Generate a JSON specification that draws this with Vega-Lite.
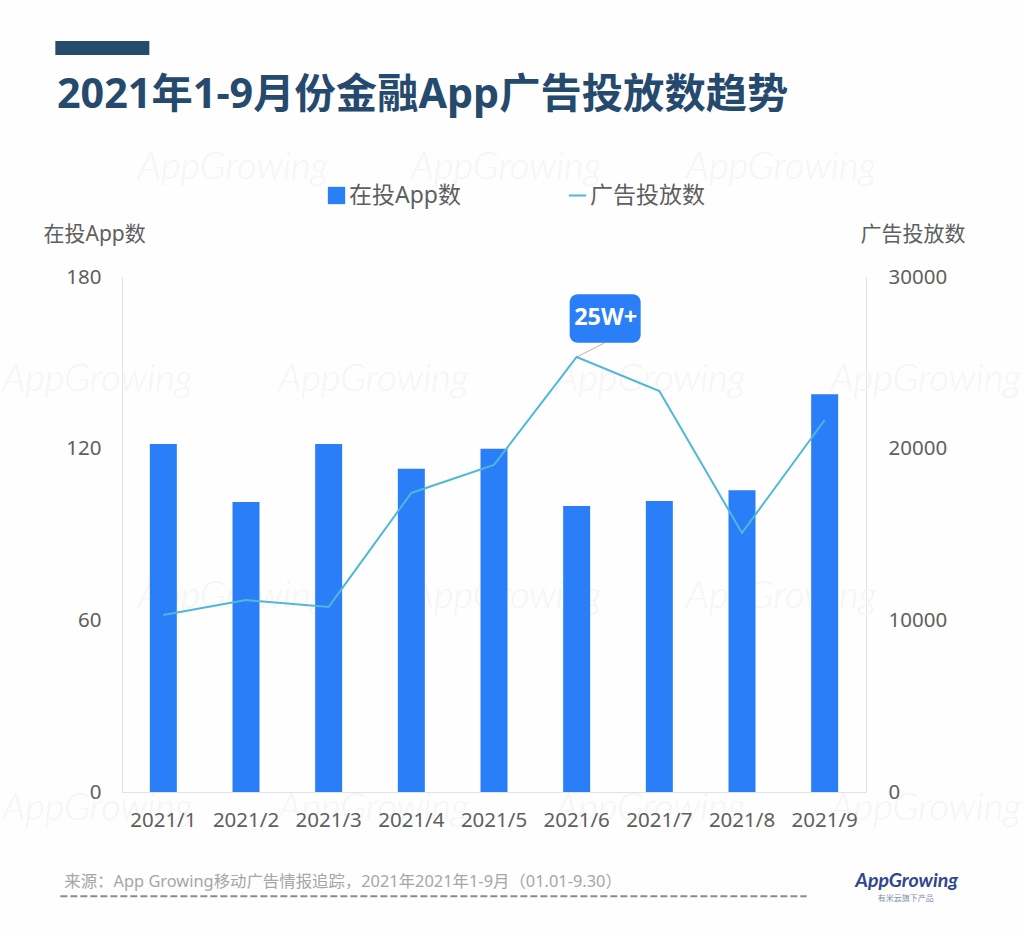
{
"$schema":"https://vega.github.io/schema/vega-lite/v6.json",
"autosize":"none",
"padding":{"left":122,"top":277,"right":158,"bottom":144},
"width":744,"height":515,
"background":"#fefefe",
"config":{"font":"Noto Sans, Noto Sans CJK SC","view":{"stroke":null},
"axisX":{"labelAngle":0,"labelAlign":"center","labelBaseline":"top","ticks":false,"domainColor":"#e3e3e3","labelFontSize":20.5,"labelColor":"#5f5f5f","labelPadding":18,"grid":false,"title":null}},
"title":{"text":"2021年1-9月份金融App广告投放数趋势","anchor":"start","frame":"group","dx":-65,"offset":0,"dy":108,"fontSize":41.3,"fontWeight":"bold","color":"#264a6e","baseline":"alphabetic"},
"data":{"values":[
{"month":"2021/1","apps":121.6,"ads":10310},
{"month":"2021/2","apps":101.4,"ads":11180},
{"month":"2021/3","apps":121.6,"ads":10780},
{"month":"2021/4","apps":113,"ads":17420},
{"month":"2021/5","apps":120,"ads":19050},
{"month":"2021/6","apps":100,"ads":25340},
{"month":"2021/7","apps":101.7,"ads":23360},
{"month":"2021/8","apps":105.5,"ads":15090},
{"month":"2021/9","apps":139,"ads":21670}
]},
"resolve":{"scale":{"y":"independent"}},
"layer":[
{"layer":[
{"data":{"values":[{"label":"AppGrowing"}]},"mark":{"type":"text","font":"Lato","fontStyle":"italic","fontWeight":300,"color":"#f5f5f5","fontSize":38,"xOffset":-13},
"encoding":{"x":{"datum":"2021/2","axis":{"zindex":1}},"y":{"datum":218},"text":{"field":"label"}}},
{"data":{"values":[{"label":"AppGrowing"}]},"mark":{"type":"text","font":"Lato","fontStyle":"italic","fontWeight":300,"color":"#f5f5f5","fontSize":38,"xOffset":12},
"encoding":{"x":{"datum":"2021/5"},"y":{"datum":218},"text":{"field":"label"}}},
{"data":{"values":[{"label":"AppGrowing"}]},"mark":{"type":"text","font":"Lato","fontStyle":"italic","fontWeight":300,"color":"#f5f5f5","fontSize":38,"xOffset":39},
"encoding":{"x":{"datum":"2021/8"},"y":{"datum":218},"text":{"field":"label"}}},
{"data":{"values":[{"label":"AppGrowing"}]},"mark":{"type":"text","font":"Lato","fontStyle":"italic","fontWeight":300,"color":"#f5f5f5","fontSize":38,"xOffset":-13},
"encoding":{"x":{"datum":"2021/2"},"y":{"datum":68},"text":{"field":"label"}}},
{"data":{"values":[{"label":"AppGrowing"}]},"mark":{"type":"text","font":"Lato","fontStyle":"italic","fontWeight":300,"color":"#f5f5f5","fontSize":38,"xOffset":12},
"encoding":{"x":{"datum":"2021/5"},"y":{"datum":68},"text":{"field":"label"}}},
{"data":{"values":[{"label":"AppGrowing"}]},"mark":{"type":"text","font":"Lato","fontStyle":"italic","fontWeight":300,"color":"#f5f5f5","fontSize":38,"xOffset":39},
"encoding":{"x":{"datum":"2021/8"},"y":{"datum":68},"text":{"field":"label"}}},
{"data":{"values":[{"label":"AppGrowing"}]},"mark":{"type":"text","font":"Lato","fontStyle":"italic","fontWeight":300,"color":"#f5f5f5","fontSize":38,"xOffset":-66},
"encoding":{"x":{"datum":"2021/1"},"y":{"datum":144},"text":{"field":"label"}}},
{"data":{"values":[{"label":"AppGrowing"}]},"mark":{"type":"text","font":"Lato","fontStyle":"italic","fontWeight":300,"color":"#f5f5f5","fontSize":38,"xOffset":-38},
"encoding":{"x":{"datum":"2021/4"},"y":{"datum":144},"text":{"field":"label"}}},
{"data":{"values":[{"label":"AppGrowing"}]},"mark":{"type":"text","font":"Lato","fontStyle":"italic","fontWeight":300,"color":"#f5f5f5","fontSize":38,"xOffset":-9},
"encoding":{"x":{"datum":"2021/7"},"y":{"datum":144},"text":{"field":"label"}}},
{"data":{"values":[{"label":"AppGrowing"}]},"mark":{"type":"text","font":"Lato","fontStyle":"italic","fontWeight":300,"color":"#f5f5f5","fontSize":38,"xOffset":101},
"encoding":{"x":{"datum":"2021/9"},"y":{"datum":144},"text":{"field":"label"}}},
{"data":{"values":[{"label":"AppGrowing"}]},"mark":{"type":"text","font":"Lato","fontStyle":"italic","fontWeight":300,"color":"#f5f5f5","fontSize":38,"xOffset":-66},
"encoding":{"x":{"datum":"2021/1"},"y":{"datum":-6},"text":{"field":"label"}}},
{"data":{"values":[{"label":"AppGrowing"}]},"mark":{"type":"text","font":"Lato","fontStyle":"italic","fontWeight":300,"color":"#f5f5f5","fontSize":38,"xOffset":-38},
"encoding":{"x":{"datum":"2021/4"},"y":{"datum":-6},"text":{"field":"label"}}},
{"data":{"values":[{"label":"AppGrowing"}]},"mark":{"type":"text","font":"Lato","fontStyle":"italic","fontWeight":300,"color":"#f5f5f5","fontSize":38,"xOffset":-9},
"encoding":{"x":{"datum":"2021/7"},"y":{"datum":-6},"text":{"field":"label"}}},
{"data":{"values":[{"label":"AppGrowing"}]},"mark":{"type":"text","font":"Lato","fontStyle":"italic","fontWeight":300,"color":"#f5f5f5","fontSize":38,"xOffset":101},
"encoding":{"x":{"datum":"2021/9"},"y":{"datum":-6},"text":{"field":"label"}}},
{"mark":{"type":"bar","size":27},
"encoding":{
"x":{"field":"month","type":"nominal","sort":null,"title":null,"scale":{"type":"band","padding":0,"domain":["2021/1","2021/2","2021/3","2021/4","2021/5","2021/6","2021/7","2021/8","2021/9"]},
"axis":{"zindex":1,"labelAngle":0,"labelAlign":"center","labelBaseline":"top","labelPadding":18}},
"y":{"field":"apps","type":"quantitative","scale":{"domain":[0,180],"nice":false},
"axis":{"values":[0,60,120,180],"grid":false,"ticks":false,"domainColor":"#e3e3e3","labelFontSize":20.5,"labelColor":"#5f5f5f","labelPadding":21,
"title":"在投App数","titleAngle":0,"titleX":-79,"titleY":-43,"titleAlign":"left","titleBaseline":"middle","titleFontSize":21,"titleFontWeight":"normal","titleColor":"#5f5f5f"}},
"fill":{"datum":"在投App数","scale":{"range":["#2a7ef7"]},
"legend":{"orient":"none","legendX":203,"legendY":-93,"title":null,"symbolType":"square","symbolSize":300,"symbolStrokeWidth":0,"labelFontSize":23,"labelColor":"#5f5f5f","labelOffset":1}}
}},
{"data":{"values":[{}]},"mark":{"type":"rule","size":14,"color":"#264a6e","xOffset":-108,"x2Offset":-14},
"encoding":{"x":{"datum":"2021/1"},"x2":{"datum":"2021/1"},"y":{"datum":260}}},
{"data":{"values":[{}]},"mark":{"type":"rule","size":2,"color":"#8c8c8c","strokeDash":[7,3],"xOffset":-103,"x2Offset":-18},
"encoding":{"x":{"datum":"2021/1"},"x2":{"datum":"2021/9"},"y":{"datum":-36.4}}},
{"data":{"values":[{}]},"mark":{"type":"rule","size":1,"color":"#d8a99a","x2Offset":28},
"encoding":{"x":{"datum":"2021/6"},"x2":{"datum":"2021/6"},"y":{"datum":152},"y2":{"datum":157}}},
{"data":{"values":[{}]},"mark":{"type":"rect","color":"#2a7ef7","cornerRadius":8,"xOffset":-7,"x2Offset":64},
"encoding":{"x":{"datum":"2021/6"},"x2":{"datum":"2021/6"},"y":{"datum":157},"y2":{"datum":174}}},
{"data":{"values":[{"label":"25W+"}]},"mark":{"type":"text","color":"#ffffff","fontSize":23.5,"fontWeight":"bold","xOffset":29},
"encoding":{"x":{"datum":"2021/6"},"y":{"datum":165.5},"text":{"field":"label"}}},
{"data":{"values":[{"label":"来源：App Growing移动广告情报追踪，2021年2021年1-9月（01.01-9.30）"}]},"mark":{"type":"text","color":"#a6a6a6","fontSize":16.4,"align":"left","xOffset":-99},
"encoding":{"x":{"datum":"2021/1"},"y":{"datum":-31.3},"text":{"field":"label"}}},
{"data":{"values":[{"label":"AppGrowing"}]},"mark":{"type":"text","font":"Lato","fontStyle":"italic","fontWeight":"bold","color":"#30468f","fontSize":19.5,"xOffset":82},
"encoding":{"x":{"datum":"2021/9"},"y":{"datum":-31},"text":{"field":"label"}}},
{"data":{"values":[{"label":"有米云旗下产品"}]},"mark":{"type":"text","color":"#7f8bb0","fontSize":8,"xOffset":81},
"encoding":{"x":{"datum":"2021/9"},"y":{"datum":-37.5},"text":{"field":"label"}}}
]},
{"mark":{"type":"line","strokeWidth":2},
"encoding":{
"x":{"field":"month","type":"nominal","sort":null},
"y":{"field":"ads","type":"quantitative","scale":{"domain":[0,30000],"nice":false},
"axis":{"orient":"right","values":[0,10000,20000,30000],"format":"d","grid":false,"ticks":false,"domainColor":"#e3e3e3","labelFontSize":20.5,"labelColor":"#5f5f5f","labelPadding":22,
"title":"广告投放数","titleAngle":0,"titleX":-6,"titleY":-43,"titleAlign":"left","titleBaseline":"middle","titleFontSize":21,"titleFontWeight":"normal","titleColor":"#5f5f5f"}},
"stroke":{"datum":"广告投放数","scale":{"range":["#4fb8d8"]},
"legend":{"orient":"none","legendX":444,"legendY":-93,"title":null,"symbolType":"stroke","symbolSize":300,"symbolStrokeWidth":2,"labelFontSize":23,"labelColor":"#5f5f5f","labelOffset":1}}
}}
]
}
